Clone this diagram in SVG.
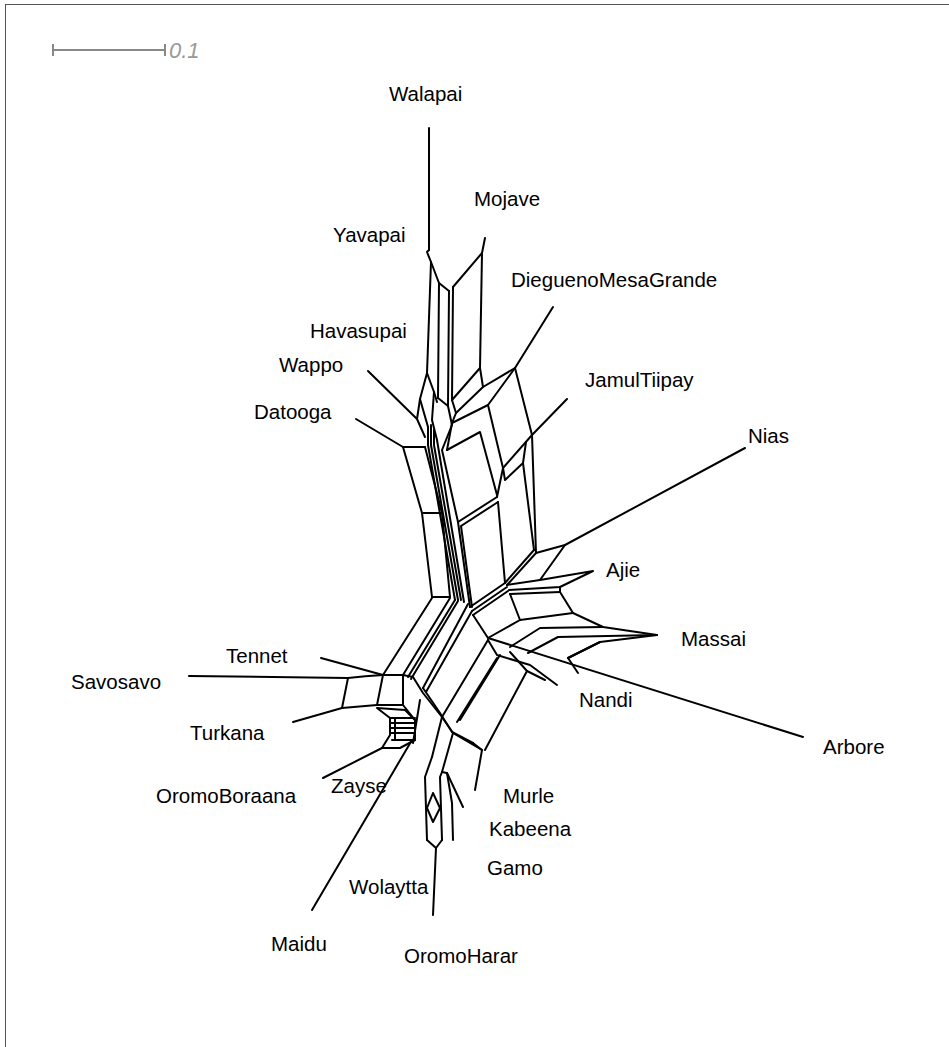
<svg xmlns="http://www.w3.org/2000/svg" width="949" height="1047" viewBox="0 0 949 1047">
<style>
.bg{fill:#fff}
.frame{fill:none;stroke:#555;stroke-width:1}
.sb{stroke:#888;stroke-width:2;fill:none}
.sbt{font-family:"Liberation Sans",Arial,sans-serif;font-size:22px;font-style:italic;fill:#999}
.e{fill:none;stroke:#000;stroke-width:2;stroke-linejoin:round;stroke-linecap:round}
.lbl{font-family:"Liberation Sans",Arial,sans-serif;font-size:20.5px;fill:#000}
</style>
<rect class="bg" x="0" y="0" width="949" height="1047"/>
<rect class="frame" x="5.5" y="4.5" width="1000" height="1100"/>
<g id="scalebar">
<path class="sb" d="M53,50 H165 M53,44 V56 M165,44 V56"/>
<text class="sbt" x="169" y="58">0.1</text>
</g>
<g id="connectors" class="e">
<path d="M429,128 V250"/>
<path d="M429,250 L427,252 L431,262 L439,283 L449,291"/>
<path d="M485,238 L482,253 L453,287"/>
<path d="M431,262 L427,373"/>
<path d="M439,283 L438,398"/>
<path d="M449,291 L448,406"/>
<path d="M453,287 L452,400"/>
<path d="M482,253 L480,368"/>
<path d="M427,373 L420,399 L428,427"/>
<path d="M427,373 L434,392 L437,402"/>
<path d="M434,392 L432,420 L437,440"/>
<path d="M438,398 L448,406"/>
<path d="M368,371 L417,419 L425,437"/>
<path d="M420,399 L417,419"/>
<path d="M356,419 L403,447 L425,447"/>
<path d="M403,447 L422,513 L432,597"/>
<path d="M422,513 L442,513"/>
<path d="M432,597 L450,597"/>
<path d="M425,447 L442,513 L450,597"/>
<path d="M553,307 L515,368"/>
<path d="M480,368 L483,387 L515,368"/>
<path d="M480,368 L452,400"/>
<path d="M483,387 L456,413"/>
<path d="M452,400 L456,413 L452,423 L447,450"/>
<path d="M515,368 L488,405 L452,423"/>
<path d="M515,368 L532,435"/>
<path d="M567,399 L532,435 L503,468"/>
<path d="M526,442 L523,463 L505,480 L503,468"/>
<path d="M488,405 L503,468 L497,497"/>
<path d="M447,450 L480,432 L497,495"/>
<path d="M428,427 L428,445 L455,600"/>
<path d="M431,425 L431,445 L458,600"/>
<path d="M434,430 L434,445 L461,600"/>
<path d="M437,440 L464,602"/>
<path d="M448,406 L452,425 L442,450 L458,522"/>
<path d="M497,497 L458,522"/>
<path d="M498,502 L461,526 L472,607"/>
<path d="M458,522 L470,607"/>
<path d="M498,502 L505,583"/>
<path d="M532,435 L536,553"/>
<path d="M523,463 L534,550"/>
<path d="M745,448 L565,545 L536,553 L507,585"/>
<path d="M565,545 L540,580"/>
<path d="M534,550 L505,583"/>
<path d="M505,583 L470,607"/>
<path d="M507,587 L472,611"/>
<path d="M508,591 L473,615"/>
<path d="M507,585 L540,580 L593,571 L560,587 L509,590"/>
<path d="M510,594 L560,592"/>
<path d="M560,587 L560,592 L573,613 L603,627 L657,635 L600,642 L568,658 L578,673"/>
<path d="M473,615 L488,638 L520,620 L573,613"/>
<path d="M510,594 L520,620"/>
<path d="M510,647 L540,628 L603,627"/>
<path d="M528,653 L558,637 L657,635"/>
<path d="M568,658 L600,642"/>
<path d="M488,638 L803,737"/>
<path d="M488,640 L497,655 L530,665 L557,685"/>
<path d="M510,652 L527,671 L545,680"/>
<path d="M432,598 L383,675"/>
<path d="M450,598 L403,675"/>
<path d="M455,600 L408,677"/>
<path d="M458,601 L411,679"/>
<path d="M468,604 L423,688"/>
<path d="M472,611 L426,692"/>
<path d="M321,658 L383,675"/>
<path d="M189,676 L348,678 Q365,676 383,675 L403,675"/>
<path d="M348,678 L342,708"/>
<path d="M383,675 L377,705"/>
<path d="M293,722 L342,708 L377,705 L403,705"/>
<path d="M403,675 L403,705"/>
<path d="M377,708 L390,718 L390,735 L382,748 L400,748 L415,740 L415,720 L405,710 Z"/>
<path d="M395,718 L395,740 M390,718 H415 M390,723 H415 M390,728 H415 M390,733 H415 M392,740 H415"/>
<path d="M323,778 L382,748"/>
<path d="M312,910 L412,740"/>
<path d="M403,705 L415,720"/>
<path d="M403,675 L413,677 L423,693 L442,717"/>
<path d="M423,688 L440,713 L452,732 L473,743"/>
<path d="M488,640 L442,717"/>
<path d="M500,655 L460,720"/>
<path d="M497,658 L457,722"/>
<path d="M527,671 L485,750"/>
<path d="M442,717 L453,733 L482,750 L475,790"/>
<path d="M473,743 L482,750"/>
<path d="M453,733 L442,772"/>
<path d="M442,717 L432,757"/>
<path d="M420,700 L413,743"/>
<path d="M432,757 L425,777 L427,840"/>
<path d="M442,772 L440,777 L442,840"/>
<path d="M442,772 L447,773 L463,807"/>
<path d="M447,773 L452,803 L453,840"/>
<path d="M433,793 L427,808 L433,822 L440,808 Z"/>
<path d="M427,840 L436,848 L442,840"/>
<path d="M433,915 L436,848"/>
</g>
<g id="labels" class="lbl">
<text id="n-Walapai" x="389" y="101">Walapai</text>
<text id="n-Mojave" x="474" y="206">Mojave</text>
<text id="n-Yavapai" x="333" y="242">Yavapai</text>
<text id="n-DieguenoMesaGrande" x="511" y="287">DieguenoMesaGrande</text>
<text id="n-Havasupai" x="310" y="338">Havasupai</text>
<text id="n-Wappo" x="279" y="372">Wappo</text>
<text id="n-JamulTiipay" x="585" y="387">JamulTiipay</text>
<text id="n-Datooga" x="254" y="419">Datooga</text>
<text id="n-Nias" x="748" y="443">Nias</text>
<text id="n-Ajie" x="606" y="577">Ajie</text>
<text id="n-Massai" x="681" y="646">Massai</text>
<text id="n-Tennet" x="226" y="663">Tennet</text>
<text id="n-Savosavo" x="71" y="689">Savosavo</text>
<text id="n-Nandi" x="579" y="707">Nandi</text>
<text id="n-Turkana" x="190" y="740">Turkana</text>
<text id="n-Arbore" x="823" y="754">Arbore</text>
<text id="n-OromoBoraana" x="156" y="803">OromoBoraana</text>
<text id="n-Zayse" x="331" y="793">Zayse</text>
<text id="n-Murle" x="503" y="803">Murle</text>
<text id="n-Kabeena" x="489" y="836">Kabeena</text>
<text id="n-Gamo" x="487" y="875">Gamo</text>
<text id="n-Wolaytta" x="349" y="894">Wolaytta</text>
<text id="n-Maidu" x="271" y="951">Maidu</text>
<text id="n-OromoHarar" x="404" y="963">OromoHarar</text>
</g>
</svg>
